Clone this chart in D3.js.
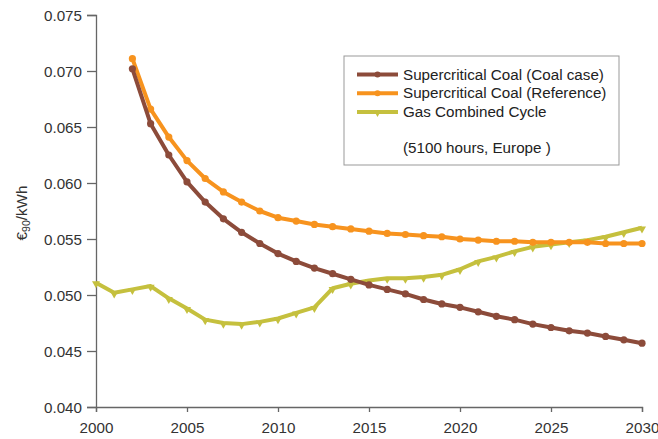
<!DOCTYPE html>
<html><head><meta charset="utf-8">
<script src="https://cdn.jsdelivr.net/npm/d3@7"></script>
<style>body{margin:0;background:#fff;} text{font-family:"Liberation Sans",Arial,sans-serif;}</style>
</head><body>
<svg id="c" width="658" height="439"></svg>
<script>
const years = d3.range(2000, 2031);
const coalCaseYears = d3.range(2002, 2031);
const coalCase = [0.0702,0.0653,0.0625,0.0601,0.0583,0.0568,0.0556,0.0546,0.0537,0.0530,0.0524,0.0519,0.0514,0.0509,0.0505,0.0501,0.0496,0.0492,0.0489,0.0485,0.0481,0.0478,0.0474,0.0471,0.0468,0.0466,0.0463,0.0460,0.0457];
const coalRefYears = d3.range(2002, 2031);
const coalRef = [0.0711,0.0666,0.0641,0.0620,0.0604,0.0592,0.0583,0.0575,0.0569,0.0566,0.0563,0.0561,0.0559,0.0557,0.0555,0.0554,0.0553,0.0552,0.0550,0.0549,0.0548,0.0548,0.0547,0.0547,0.0547,0.0547,0.0546,0.0546,0.0546];
const gasYears = d3.range(2000, 2031);
const gas = [0.0511,0.0502,0.0505,0.0508,0.0497,0.0488,0.0478,0.0475,0.0474,0.0476,0.0479,0.0484,0.0489,0.0506,0.0510,0.0513,0.0515,0.0515,0.0516,0.0518,0.0523,0.0530,0.0534,0.0539,0.0543,0.0545,0.0547,0.0549,0.0552,0.0556,0.0560];
const yTicks = [0.040,0.045,0.050,0.055,0.060,0.065,0.070,0.075];
const xTicks = [2000,2005,2010,2015,2020,2025,2030];
const seriesNames = ["Supercritical Coal (Coal case)","Supercritical Coal (Reference)","Gas Combined Cycle"];
const seriesColors = ["#8c4b3a","#f7931e","#c5c03e"];
const note = "(5100 hours, Europe )";

const svg = d3.select("#c");
const x = d3.scaleLinear().domain([2000,2030]).range([96,642]);
const y = d3.scaleLinear().domain([0.040,0.075]).range([407,15]);

const axisColor = "#666";
const fs = 15.2;
const gx = svg.append("g").attr("transform","translate(0,407)")
  .call(d3.axisBottom(x).tickValues(xTicks).tickFormat(d3.format("d")).tickSizeOuter(0).tickSize(5));
const gy = svg.append("g").attr("transform","translate(96,0)")
  .call(d3.axisLeft(y).tickValues(yTicks).tickFormat(d3.format(".3f")).tickSizeOuter(0).tickSize(9));
[gx,gy].forEach(g=>{
  g.select(".domain").attr("stroke",axisColor).attr("stroke-width",1.3);
  g.selectAll(".tick line").attr("stroke",axisColor).attr("stroke-width",1.3);
  g.selectAll(".tick text").attr("fill","#333").attr("font-size",fs).attr("font-family","Liberation Sans, Arial, sans-serif");
});
gx.selectAll(".tick text").attr("y",0).attr("dy","1.7em");
gy.selectAll(".tick text").attr("x",-14).attr("dy","0.35em");

// y label
const yl = svg.append("text").attr("transform","translate(27,213) rotate(-90)")
  .attr("text-anchor","middle").attr("font-size",fs).attr("fill","#333");
yl.append("tspan").text("€");
yl.append("tspan").attr("font-size",10.5).attr("dy",3).text("90");
yl.append("tspan").attr("dy",-3).text("/kWh");

const line = d3.line().x(d=>x(d[0])).y(d=>y(d[1]));
const data = [
  coalCaseYears.map((yr,i)=>[yr,coalCase[i]]),
  coalRefYears.map((yr,i)=>[yr,coalRef[i]]),
  gasYears.map((yr,i)=>[yr,gas[i]])
];
const drawOrder = [2,1,0];
drawOrder.forEach(k=>{
  svg.append("path").datum(data[k]).attr("d",line).attr("fill","none")
    .attr("stroke",seriesColors[k]).attr("stroke-width",4).attr("stroke-linejoin","round");
  if(k<2){
    svg.append("g").selectAll("circle").data(data[k]).join("circle")
      .attr("cx",d=>x(d[0])).attr("cy",d=>y(d[1])).attr("r",3.6).attr("fill",seriesColors[k]);
  } else {
    svg.append("g").selectAll("path").data(data[k]).join("path")
      .attr("d",d3.symbol().type(d3.symbolTriangle).size(28))
      .attr("transform",d=>`translate(${x(d[0])},${y(d[1])+1}) rotate(180)`)
      .attr("fill",seriesColors[k]);
  }
});

// legend
const lg = svg.append("g");
lg.append("rect").attr("x",344).attr("y",56).attr("width",275).attr("height",109)
  .attr("fill","#fff").attr("stroke","#999").attr("stroke-width",1);
seriesNames.forEach((n,i)=>{
  const cy = 74.5 + i*18.7;
  lg.append("line").attr("x1",357).attr("x2",398).attr("y1",cy).attr("y2",cy)
    .attr("stroke",seriesColors[i]).attr("stroke-width",4);
  if(i<2) lg.append("circle").attr("cx",377.5).attr("cy",cy).attr("r",3).attr("fill",seriesColors[i]);
  else lg.append("path").attr("d",d3.symbol().type(d3.symbolTriangle).size(22)).attr("transform",`translate(377.5,${cy+1}) rotate(180)`).attr("fill",seriesColors[i]);
  lg.append("text").attr("x",403).attr("y",cy+5).attr("font-size",fs).attr("fill","#222").text(n);
});
lg.append("text").attr("x",403).attr("y",153).attr("font-size",fs).attr("fill","#222").text(note);
</script>
</body></html>
